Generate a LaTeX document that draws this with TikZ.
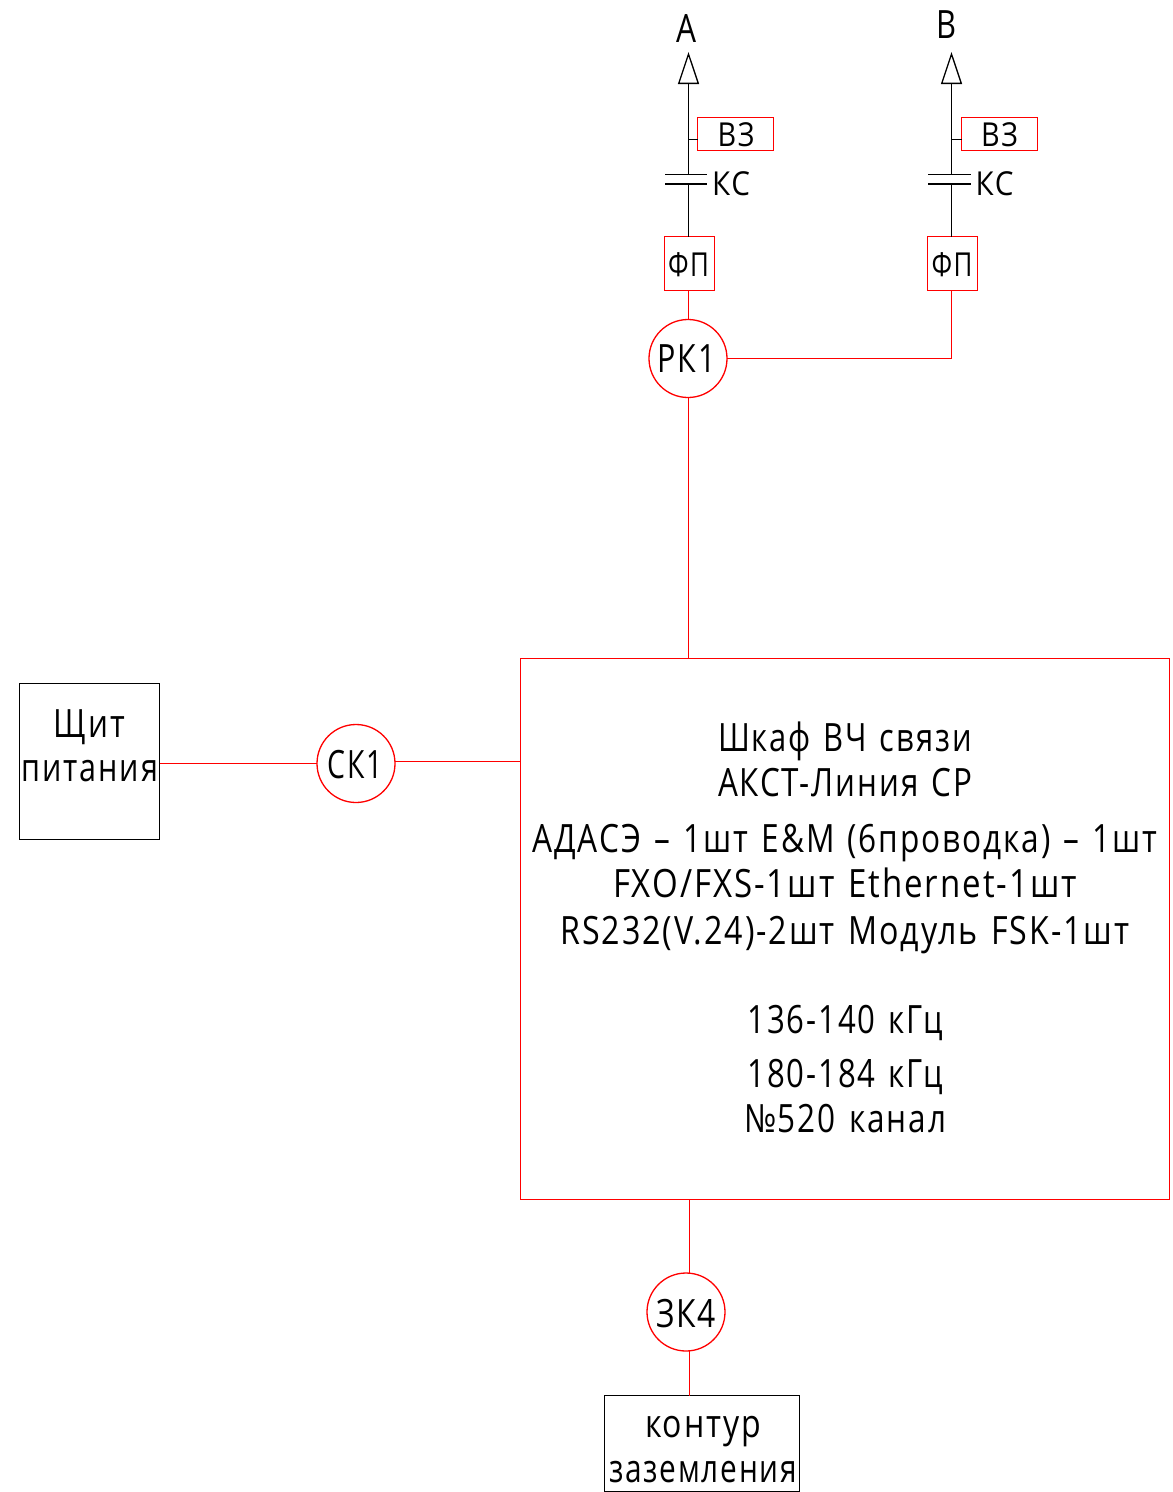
\documentclass[tikz,border=0pt]{standalone}
\usepackage{fontspec}
\usepackage{graphicx}
\setmainfont{Open Sans}[LetterSpace=6,WordSpace=1.3]
\usetikzlibrary{arrows.meta}
\newcommand{\fw}[2]{\resizebox{#1pt}{\height}{#2}}
\tikzset{
  x=1pt,y=-1pt,
  redline/.style={draw=red,line width=1.3pt},
  blackline/.style={draw=black,line width=1.3pt},
  redbox/.style={redline,minimum width=#1,inner sep=0pt,outer sep=0pt},
  blackbox/.style={blackline,minimum width=#1,inner sep=0pt,outer sep=0pt},
  txt/.style={anchor=base,inner sep=0pt,outer sep=0pt,text=black,yshift=-1pt,font=\fontsize{39}{41}\selectfont},
  txts/.style={txt,font=\fontsize{33}{36}\selectfont},
  ring/.style={circle,redline,minimum size=78pt,inner sep=0pt,outer sep=0pt},
  open arrow/.style={-{Triangle[open,length=32pt,width=21pt,line width=1.3pt]}}
}
\begin{document}
\begin{tikzpicture}
\useasboundingbox (0,0) rectangle (1173,1492);
% boxes
\node[redbox=649pt,minimum height=541pt] (main) at (845,929) {};
\node[blackbox=140pt,minimum height=156pt] (panel) at (89.5,761.5) {};
\node[blackbox=195pt,minimum height=96pt] (earth) at (702,1443.5) {};
\node[redbox=50pt,minimum height=54pt] (fpa) at (689.5,263.5) {};
\node[redbox=50pt,minimum height=54pt] (fpb) at (952.5,263.5) {};
\node[redbox=76pt,minimum height=33pt] (vza) at (735.5,134) {};
\node[redbox=76pt,minimum height=33pt] (vzb) at (999.5,134) {};
\node[ring] (rk) at (688,358.5) {};
\node[ring] (sk) at (356,763.5) {};
\node[ring] (zk) at (686,1312) {};
% free ends
\coordinate (tipa) at (688.5,52);
\coordinate (tipb) at (951.5,52);
% capacitors
\coordinate (ca1) at (665,174.5); \coordinate (ca2) at (707,174.5);
\coordinate (ca3) at (665,184); \coordinate (ca4) at (707,184);
\coordinate (cb1) at (928,174.5); \coordinate (cb2) at (971,174.5);
\coordinate (cb3) at (928,184); \coordinate (cb4) at (971,184);
\draw[blackline] (ca1)--(ca2) (ca3)--(ca4) (cb1)--(cb2) (cb3)--(cb4);
% black connectors
\coordinate (axa) at (688.5,0); \coordinate (axb) at (951.5,0);
\draw[blackline] (axa |- fpa.north) -- (axa |- ca3);
\draw[blackline,open arrow] (axa |- ca1) -- (tipa);
\draw[blackline] (axb |- fpb.north) -- (axb |- cb3);
\draw[blackline,open arrow] (axb |- cb1) -- (tipb);
\coordinate (sa) at (0,139.5);
\draw[blackline] (axa |- sa) -- (vza.west |- sa);
\draw[blackline] (axb |- sa) -- (vzb.west |- sa);
% red connectors
\draw[redline] (axa |- fpa.south) -- (axa |- rk.north);
\draw[redline] (rk.east) -- (axb |- rk.east) -- (axb |- fpb.south);
\draw[redline] (axa |- rk.south) -- (axa |- main.north);
\draw[redline] (panel.east |- sk.west) -- (sk.west);
\coordinate (sm) at (0,761.5);
\draw[redline] (sk.east |- sm) -- (main.west |- sm);
\coordinate (axz) at (689.5,0);
\draw[redline] (axz |- main.south) -- (axz |- zk.north);
\draw[redline] (axz |- zk.south) -- (axz |- earth.north);
% labels
\node[txt] (la1) at (686,41) {\fw{20}{A}};
\node[txt] (lb1) at (946,37) {\fw{20}{B}};
\node[txts] (lvza) at (736,145) {\fw{37}{ВЗ}};
\node[txts] (lvzb) at (999.5,145) {\fw{37}{ВЗ}};
\node[txts] (lka) at (731,194) {\fw{38}{КС}};
\node[txts] (lkb) at (994.5,194) {\fw{38}{КС}};
\node[txts] (lfa) at (688.5,275) {\fw{41}{ФП}};
\node[txts] (lfb) at (952,275) {\fw{41}{ФП}};
\node[txt] (lrk) at (686.5,371) {\fw{58}{РК1}};
\node[txt] (lsk) at (355,777) {\fw{55}{СК1}};
\node[txt] (lzk) at (686,1326) {\fw{60}{ЗК4}};
\node[txt] (l1) at (845,750) {\fw{254}{Шкаф ВЧ связи}};
\node[txt] (l2) at (845,795) {\fw{254}{АКСТ-Линия СР}};
\node[txt] (l3) at (845,851) {\fw{625}{АДАСЭ – 1шт E\&M (6проводка) – 1шт}};
\node[txt] (l4) at (845,896) {\fw{464}{FXO/FXS-1шт Ethernet-1шт}};
\node[txt] (l5) at (845,943) {\fw{569}{RS232(V.24)-2шт Модуль FSK-1шт}};
\node[txt] (l6) at (845,1032) {\fw{195}{136-140 кГц}};
\node[txt] (l7) at (845,1086) {\fw{195}{180-184 кГц}};
\node[txt] (l8) at (845,1131) {\fw{202}{№520 канал}};
\node[txt] (p1) at (89.5,736) {\fw{71}{Щит}};
\node[txt] (p2) at (90,780) {\fw{136}{питания}};
\node[txt] (e1) at (703,1436) {\fw{116}{контур}};
\node[txt] (e2) at (703,1481) {\fw{188}{заземления}};
\end{tikzpicture}
\end{document}
